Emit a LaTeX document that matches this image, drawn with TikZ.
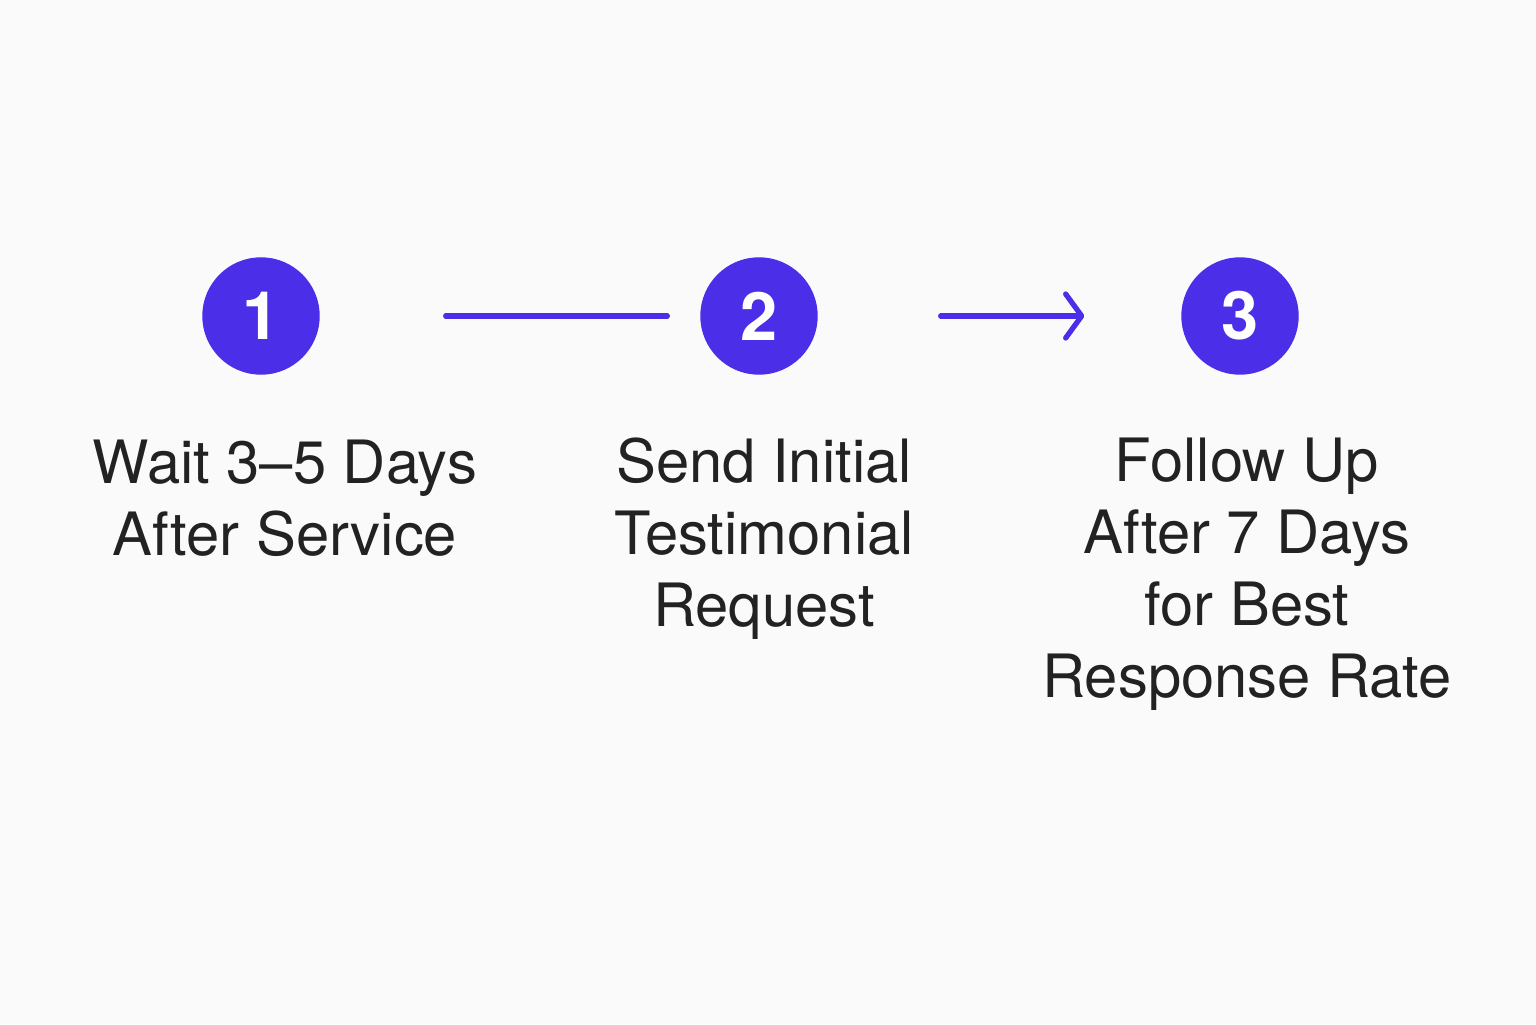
\documentclass[tikz,border=0pt]{standalone}
\usepackage{fontspec}
\setmainfont{TeX Gyre Heros}
\usetikzlibrary{arrows.meta}
\definecolor{accent}{RGB}{74,46,232}
\definecolor{ink}{RGB}{34,34,34}
\definecolor{bg}{RGB}{250,250,250}
\begin{document}
\begin{tikzpicture}[
  stepcircle/.style={circle, fill=accent, draw=accent, minimum size=1.16cm, inner sep=0pt,
    text=white, font=\fontsize{19}{19}\selectfont\bfseries},
  label/.style={anchor=base, align=center, text=ink, inner sep=0pt,
    font=\fontsize{17}{20.4}\selectfont},
  conn/.style={draw=accent, line width=1.5pt, line cap=round}
]
\useasboundingbox[fill=bg] (0,0) rectangle (15.36,10.24);
\node[stepcircle] (c1) at (2.61,7.08) {1};
\node[stepcircle] (c2) at (7.59,7.08) {2};
\node[stepcircle] (c3) at (12.40,7.08) {3};
\node[label] (t1) at (2.85,4.69) {Wait 3–5 Days\\After Service};
\node[label] (t2) at (7.64,3.98) {Send Initial\\Testimonial\\Request};
\node[label] (t3) at (12.47,3.27) {Follow Up\\After 7 Days\\for Best\\Response Rate};
\draw[conn, shorten <=1.26cm, shorten >=0.33cm] (c1) -- (c2);
\draw[conn, -{Straight Barb[length=1.6mm,width=4.4mm,line cap=round,line join=round]}, shorten <=1.23cm, shorten >=0.97cm] (c2) -- (c3);
\end{tikzpicture}
\end{document}
